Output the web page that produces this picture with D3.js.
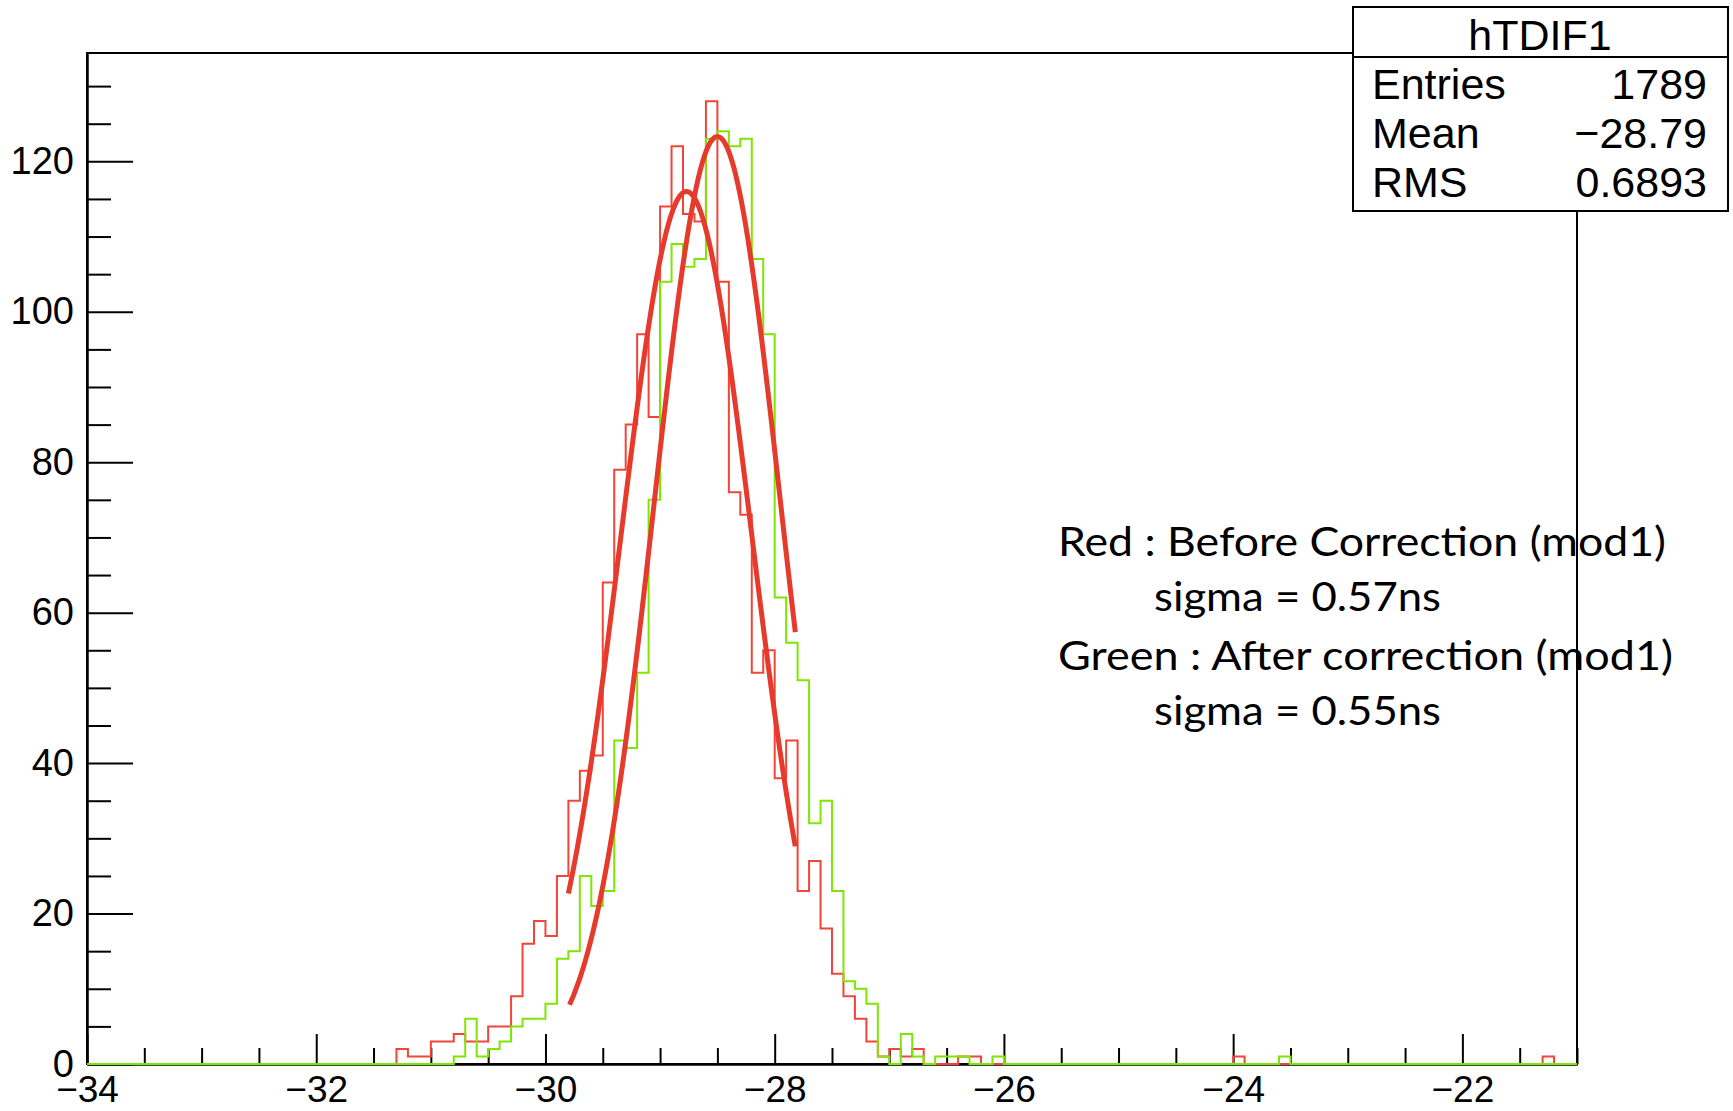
<!DOCTYPE html>
<html>
<head>
<meta charset="utf-8">
<script src="https://cdn.jsdelivr.net/npm/d3@7"></script>
<style>
  body { margin: 0; background: #fff; }
  svg { display: block; }
</style>
</head>
<body>
<div id="container"></div>
<script>
// axis ranges and ticks
var xDomain = [-34, -21]
var yMax = 134.4
var xMajor = [-34, -32, -30, -28, -26, -24, -22]
var yMajor = [0, 20, 40, 60, 80, 100, 120]
var binWidth = 0.1

// red histogram (before correction), counts per 0.1 bin starting at redStart
var redStart = -31.3
var redCounts = [2, 1, 1, 3, 3, 4, 3, 3, 5, 5,
  9, 16, 19, 17, 25, 35, 39, 41, 64, 79,
  85, 97, 86, 114, 122, 113, 112, 128, 104, 76,
  73, 52, 55, 38, 43, 23, 27, 18, 12, 9,
  6, 3, 1, 2, 1, 2, 0, 0, 0, 1, 1]
var redOutliers = [[-24.0, 1], [-21.3, 1]]

// green histogram (after correction)
var greenStart = -30.8
var greenCounts = [1, 6, 1, 2, 3, 5, 6, 6, 8, 14,
  15, 25, 21, 23, 43, 42, 52, 75, 104, 109,
  106, 107, 123, 124, 122, 123, 107, 97, 62, 56,
  51, 32, 35, 23, 11, 10, 8, 1, 0, 4,
  1, 0, 1, 1, 1, 0, 0, 1]
var greenOutliers = [[-23.6, 1]]

// gaussian fits (both drawn in red)
var fitAmp = [116, 123.3]
var fitMean = [-28.77, -28.50]
var fitSigma = [0.57, 0.55]
var fitFrom = [-29.80, -29.79]
var fitTo = [-27.82, -27.82]

// stats box
var statsTitle = "hTDIF1"
var statsLabels = ["Entries", "Mean", "RMS"]
var statsValues = ["1789", "\u221228.79", "0.6893"]

var notes = ["Red : Before Correction (mod1)", "sigma = 0.57ns",
  "Green : After correction (mod1)", "sigma = 0.55ns"]

var W = 1733, H = 1111
var padL = 87, padR = 1577, padT = 53, padB = 1064

var svg = d3.select("#container").append("svg")
  .attr("width", W)
  .attr("height", H)

var x = d3.scaleLinear().domain(xDomain).range([padL, padR])
var y = d3.scaleLinear().domain([0, yMax]).range([padB, padT])

function buildBins(start, counts, outliers) {
  var nb = Math.round((xDomain[1] - xDomain[0]) / binWidth)
  var vals = new Array(nb).fill(0)
  var s = Math.round((start - xDomain[0]) / binWidth)
  counts.forEach(function (c, i) { vals[s + i] = c })
  outliers.forEach(function (o) { vals[Math.round((o[0] - xDomain[0]) / binWidth)] = o[1] })
  var pts = vals.map(function (v, i) { return [xDomain[0] + i * binWidth, v] })
  pts.push([xDomain[1], vals[nb - 1]])
  return pts
}

var labelFont = "'Liberation Sans', Arial, Helvetica, sans-serif"

// axes: ticks point into the frame
var minorX = d3.range(-34, -21 + 0.001, 0.5).filter(function (v) { return xMajor.indexOf(v) < 0 })
var minorY = d3.range(0, 131, 5).filter(function (v) { return yMajor.indexOf(v) < 0 })

var gx = svg.append("g").attr("transform", "translate(0," + padB + ")")
gx.call(d3.axisBottom(x).tickValues(minorX).tickSize(-16).tickSizeOuter(0).tickFormat(""))
gx.append("g").call(d3.axisBottom(x).tickValues(xMajor).tickSize(-30).tickSizeOuter(0).tickPadding(12).tickFormat(d3.format("d")))

var gy = svg.append("g").attr("transform", "translate(" + padL + ",0)")
gy.call(d3.axisLeft(y).tickValues(minorY).tickSize(-24).tickSizeOuter(0).tickFormat(""))
gy.append("g").call(d3.axisLeft(y).tickValues(yMajor).tickSize(-46).tickSizeOuter(0).tickPadding(13))

svg.selectAll(".tick line").attr("stroke", "#000").attr("stroke-width", 2)
svg.selectAll(".domain").attr("stroke", "#000").attr("stroke-width", 2)
svg.selectAll(".tick text").attr("font-family", labelFont).attr("font-size", 38).attr("fill", "#000")
gx.selectAll(".tick text").attr("font-size", 37).attr("dy", "0.71em")

svg.append("rect")
  .attr("x", padL).attr("y", padT)
  .attr("width", padR - padL).attr("height", padB - padT)
  .attr("fill", "none").attr("stroke", "#000").attr("stroke-width", 2)

// histograms
var step = d3.line().x(function (d) { return x(d[0]) }).y(function (d) { return y(d[1]) }).curve(d3.curveStepAfter)

svg.append("path")
  .attr("d", step(buildBins(redStart, redCounts, redOutliers)))
  .attr("fill", "none").attr("stroke", "#f04538").attr("stroke-width", 2)

svg.append("path")
  .attr("d", step(buildBins(greenStart, greenCounts, greenOutliers)))
  .attr("fill", "none").attr("stroke", "#7ee600").attr("stroke-width", 2)

// fits
var smooth = d3.line().x(function (d) { return x(d[0]) }).y(function (d) { return y(d[1]) })
fitAmp.forEach(function (a, k) {
  var pts = d3.range(0, 101).map(function (i) {
    var xv = fitFrom[k] + (fitTo[k] - fitFrom[k]) * i / 100
    var z = (xv - fitMean[k]) / fitSigma[k]
    return [xv, a * Math.exp(-0.5 * z * z)]
  })
  svg.append("path")
    .attr("d", smooth(pts))
    .attr("fill", "none").attr("stroke", "#e63a2c").attr("stroke-width", 5)
    .attr("stroke-linejoin", "round")
})

// stats box
var sb = svg.append("g")
sb.append("rect").attr("x", 1353).attr("y", 7).attr("width", 375).attr("height", 204)
  .attr("fill", "#fff").attr("stroke", "#000").attr("stroke-width", 2)
sb.append("line").attr("x1", 1353).attr("x2", 1728).attr("y1", 57).attr("y2", 57)
  .attr("stroke", "#000").attr("stroke-width", 2)
sb.append("text").attr("x", 1540).attr("y", 50).attr("text-anchor", "middle")
  .attr("font-family", labelFont).attr("font-size", 43).text(statsTitle)
statsLabels.forEach(function (l, i) {
  sb.append("text").attr("x", 1372).attr("y", 99 + i * 49)
    .attr("font-family", labelFont).attr("font-size", 43).text(l)
  sb.append("text").attr("x", 1707).attr("y", 99 + i * 49).attr("text-anchor", "end")
    .attr("font-family", labelFont).attr("font-size", 43).text(statsValues[i])
})

// annotation
var noteX = [1058, 1154, 1058, 1154]
var noteY = [556, 611, 670, 725]
var noteW = [608, 287, 615, 287]
notes.forEach(function (t, i) {
  svg.append("text").attr("x", noteX[i]).attr("y", noteY[i])
    .attr("font-family", "Lato, 'Open Sans', sans-serif").attr("font-size", 40)
    .attr("textLength", noteW[i]).attr("lengthAdjust", "spacingAndGlyphs")
    .text(t)
})
</script>
</body>
</html>
